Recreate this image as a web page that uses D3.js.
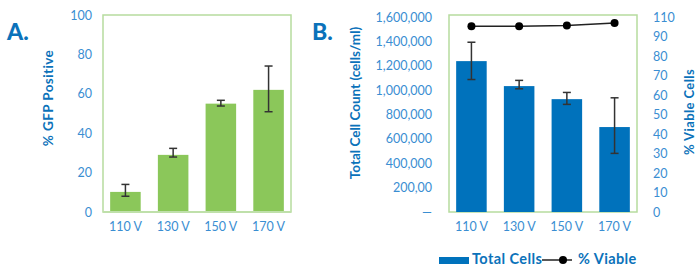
<!DOCTYPE html>
<html><head><meta charset="utf-8">
<script src="https://cdn.jsdelivr.net/npm/d3@7"></script>
<style>body{margin:0;background:#fff}svg{display:block;font-family:Lato,"Open Sans",sans-serif}</style>
</head><body><svg id="c" width="696" height="268"></svg>
<script>
const categories = ["110 V","130 V","150 V","170 V"];
const gfpValues = [10.2, 29, 55, 62];
const gfpErrLow = [8, 27.9, 53.8, 50.9];
const gfpErrHigh = [14, 32.3, 56.7, 74.1];
const gfpTicks = [0,20,40,60,80,100];
const cellValues = [1238000, 1033000, 926000, 697000];
const cellErrLow = [1087000, 1011000, 883000, 481000];
const cellErrHigh = [1393000, 1080000, 981000, 937000];
const cellTicks = [0,200000,400000,600000,800000,1000000,1200000,1400000,1600000];
const cellTickLabels = ["\u2014","200,00","400,000","600,000","800,000","1,000,000","1,200,000","1,400,000","1,600,000"];
const viableValues = [95.2, 95.2, 95.6, 96.9];
const viableTicks = [0,10,20,30,40,50,60,70,80,90,100];
const viableTickLabels = ["0","10","20","30","40","50","60","70","80","90","110"];

const svg = d3.select("#c");
const TITLE="#0b72ba", TICK="#3a8ed2", FRAME="#b6dc9e", GREEN="#8bc75a", BLUE="#0072bc", ERR="#333";

function errorBars(g, x, y, lo, hi){
  categories.forEach((c,i)=>{
    const cx = x(c)+x.bandwidth()/2;
    g.append("line").attr("x1",cx).attr("x2",cx).attr("y1",y(lo[i])).attr("y2",y(hi[i])).attr("stroke",ERR).attr("stroke-width",1.5);
    [lo[i],hi[i]].forEach(v=>g.append("line").attr("x1",cx-4).attr("x2",cx+4).attr("y1",y(v)).attr("y2",y(v)).attr("stroke",ERR).attr("stroke-width",1.5));
  });
}

// ---------- Chart A ----------
const xA = d3.scaleBand().domain(categories).range([103,291]).paddingInner(0.36).paddingOuter(0.15);
const yA = d3.scaleLinear().domain([0,100]).range([212,15]);
const gA = svg.append("g");
gA.append("rect").attr("x",103).attr("y",15).attr("width",188).attr("height",197).attr("fill","none").attr("stroke",FRAME).attr("stroke-width",1.5);
gA.selectAll(".b").data(gfpValues).join("rect").attr("x",(d,i)=>xA(categories[i])).attr("width",xA.bandwidth())
  .attr("y",d=>yA(d)).attr("height",d=>yA(0)-yA(d)).attr("fill",GREEN);
gA.append("line").attr("x1",103).attr("x2",291).attr("y1",212).attr("y2",212).attr("stroke","#bfe0aa").attr("stroke-width",2);
errorBars(gA,xA,yA,gfpErrLow,gfpErrHigh);
const axA = gA.append("g").attr("transform","translate(92,0)").call(d3.axisLeft(yA).tickValues(gfpTicks).tickSize(0).tickPadding(0));
axA.select(".domain").remove();
const axAx = gA.append("g").attr("transform","translate(0,222)").call(d3.axisBottom(xA).tickSize(0).tickPadding(0));
axAx.select(".domain").remove();
gA.append("text").attr("transform","translate(53,98) rotate(-90)").attr("text-anchor","middle").attr("fill",TITLE)
  .attr("font-weight","bold").attr("font-size",13.5).attr("letter-spacing",0.4).text("% GFP Positive");
gA.append("text").attr("x",7).attr("y",40).attr("fill",TITLE).attr("font-weight","900").attr("font-size",23).text("A.");

// ---------- Chart B ----------
const xB = d3.scaleBand().domain(categories).range([449,637]).paddingInner(0.36).paddingOuter(0.15);
const yB = d3.scaleLinear().domain([0,1600000]).range([212,17]);
const yR = d3.scaleLinear().domain([0,100]).range([212,17]);
const gB = svg.append("g");
gB.append("rect").attr("x",449).attr("y",15).attr("width",188).attr("height",197).attr("fill","none").attr("stroke",FRAME).attr("stroke-width",1.5);
gB.selectAll(".b").data(cellValues).join("rect").attr("x",(d,i)=>xB(categories[i])).attr("width",xB.bandwidth())
  .attr("y",d=>yB(d)).attr("height",d=>yB(0)-yB(d)).attr("fill",BLUE);
errorBars(gB,xB,yB,cellErrLow,cellErrHigh);
const line = d3.line().x((d,i)=>xB(categories[i])+xB.bandwidth()/2).y(d=>yR(d));
gB.append("path").datum(viableValues).attr("d",line).attr("fill","none").attr("stroke","#222").attr("stroke-width",1.5);
gB.selectAll(".dot").data(viableValues).join("circle").attr("cx",(d,i)=>xB(categories[i])+xB.bandwidth()/2).attr("cy",d=>yR(d)).attr("r",4).attr("fill","#000");
const axB = gB.append("g").attr("transform","translate(432,0)").call(d3.axisLeft(yB).tickValues(cellTicks).tickFormat((d,i)=>cellTickLabels[i]).tickSize(0).tickPadding(0));
axB.select(".domain").remove();
const axR = gB.append("g").attr("transform","translate(653,0)").call(d3.axisRight(yR).tickValues(viableTicks).tickFormat((d,i)=>viableTickLabels[i]).tickSize(0).tickPadding(0));
axR.select(".domain").remove();
const axBx = gB.append("g").attr("transform","translate(0,222)").call(d3.axisBottom(xB).tickSize(0).tickPadding(0));
axBx.select(".domain").remove();
gB.append("text").attr("transform","translate(360,103) rotate(-90)").attr("text-anchor","middle").attr("fill",TITLE)
  .attr("font-weight","bold").attr("font-size",13.5).text("Total Cell Count (cells/ml)");
gB.append("text").attr("transform","translate(694,112) rotate(-90)").attr("text-anchor","middle").attr("fill",TITLE)
  .attr("font-weight","bold").attr("font-size",13).attr("letter-spacing",0.4).text("% Viable Cells");
gB.append("text").attr("x",312).attr("y",40).attr("fill",TITLE).attr("font-weight","900").attr("font-size",23).text("B.");

svg.selectAll(".tick text").attr("fill",TICK).attr("font-size",12.5).attr("font-family","Lato, sans-serif");

// legend
const lg = svg.append("g");
lg.append("rect").attr("x",439).attr("y",257).attr("width",30).attr("height",7).attr("fill",BLUE);
lg.append("text").attr("x",472).attr("y",264).attr("fill",TITLE).attr("font-weight","bold").attr("font-size",14.5).attr("letter-spacing",0.4).text("Total Cells");
lg.append("line").attr("x1",542).attr("x2",572).attr("y1",260).attr("y2",260).attr("stroke","#222").attr("stroke-width",1.5);
lg.append("circle").attr("cx",563).attr("cy",260).attr("r",4).attr("fill","#000");
lg.append("text").attr("x",578).attr("y",264).attr("fill",TITLE).attr("font-weight","bold").attr("font-size",14.5).attr("letter-spacing",0.4).text("% Viable");
</script></body></html>
